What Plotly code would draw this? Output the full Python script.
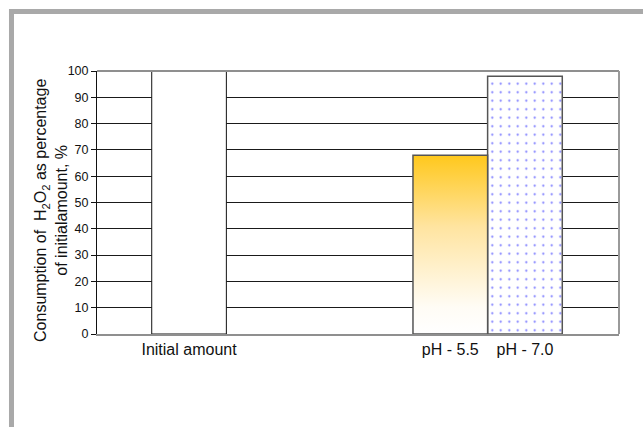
import plotly.graph_objects as go

# ---- data ----
categories = ["Initial amount", "pH - 5.5", "pH - 7.0"]
values = [100, 68, 98]
y_ticks = [0, 10, 20, 30, 40, 50, 60, 70, 80, 90, 100]

# ---- layout constants (positions / styles) ----
positions = [0, 3.5, 4.5]
bar_w = 1.0
font = "Liberation Sans, Arial, sans-serif"

fig = go.Figure()

# Initial amount: plain white bar
fig.add_trace(go.Bar(
    x=[positions[0]], y=[values[0]], width=bar_w,
    marker=dict(color="white", line=dict(color="#111111", width=1)),
    showlegend=False, hoverinfo="skip"))

# pH 7.0: dotted pattern bar
fig.add_trace(go.Bar(
    x=[positions[2]], y=[values[2]], width=bar_w,
    marker=dict(color="white", line=dict(color="#555555", width=1.5),
                pattern=dict(shape=".", fgcolor="#0000ff", bgcolor="white",
                             size=8.5, solidity=0.05)),
    showlegend=False, hoverinfo="skip"))

# pH 5.5: gradient bar via filled scatter polygon
c = positions[1]
v = values[1]
fig.add_trace(go.Scatter(
    x=[c - bar_w / 2, c + bar_w / 2, c + bar_w / 2, c - bar_w / 2, c - bar_w / 2],
    y=[0, 0, v, v, 0],
    mode="lines", fill="toself",
    line=dict(color="#555555", width=1.5),
    fillgradient=dict(type="vertical",
                      colorscale=[[0, "#ffffff"], [0.15, "#fffcf5"], [0.6, "#ffe4a0"], [1, "#ffc81c"]]),
    showlegend=False, hoverinfo="skip"))

shapes = [
    # outer gray frame (left and top)
    dict(type="rect", xref="paper", yref="paper", x0=-0.1686, x1=-0.159, y0=-0.36, y1=1.2357,
         fillcolor="#a9a9a9", line=dict(width=0), layer="above"),
    dict(type="rect", xref="paper", yref="paper", x0=-0.1686, x1=1.06, y0=1.2167, y1=1.2357,
         fillcolor="#a9a9a9", line=dict(width=0), layer="above"),
    # plot border: top and right gray
    dict(type="line", xref="paper", yref="paper", x0=0, x1=1, y0=1, y1=1,
         line=dict(color="#8f8f8f", width=2), layer="above"),
    dict(type="line", xref="paper", yref="paper", x0=1, x1=1, y0=0, y1=1,
         line=dict(color="#9a9a9a", width=2), layer="above"),
]

fig.update_layout(
    width=643, height=427,
    margin=dict(l=97, r=24, t=71, b=93),
    paper_bgcolor="white", plot_bgcolor="white",
    barmode="overlay",
    font=dict(family=font, color="#111111"),
    shapes=shapes,
    xaxis=dict(
        range=[-1.233, 5.76],
        tickvals=positions, ticktext=categories,
        tickfont=dict(size=16, family=font, color="#111111"),
        showgrid=False, zeroline=False,
        showline=True, linecolor="#8f8f8f", linewidth=2,
        ticks="", fixedrange=True,
    ),
    yaxis=dict(
        range=[0, 100],
        tickvals=y_ticks,
        tickfont=dict(size=12.5, family=font, color="#111111"),
        showgrid=True, gridcolor="#1a1a1a", gridwidth=1,
        zeroline=False,
        showline=True, linecolor="#111111", linewidth=1,
        ticks="outside", ticklen=5, tickcolor="#111111",
        fixedrange=True,
    ),
    annotations=[dict(
        text="Consumption of &nbsp;H<sub>2</sub>O<sub>2</sub> as percentage<br>of initialamount, %",
        xref="paper", yref="paper", x=-0.087, y=0.47,
        xanchor="center", yanchor="middle", textangle=-90, showarrow=False,
        font=dict(size=16, family=font, color="#111111"))],
)

fig.write_html("out.html", config={"displayModeBar": False},
               post_script="document.body.style.margin='0px';")
